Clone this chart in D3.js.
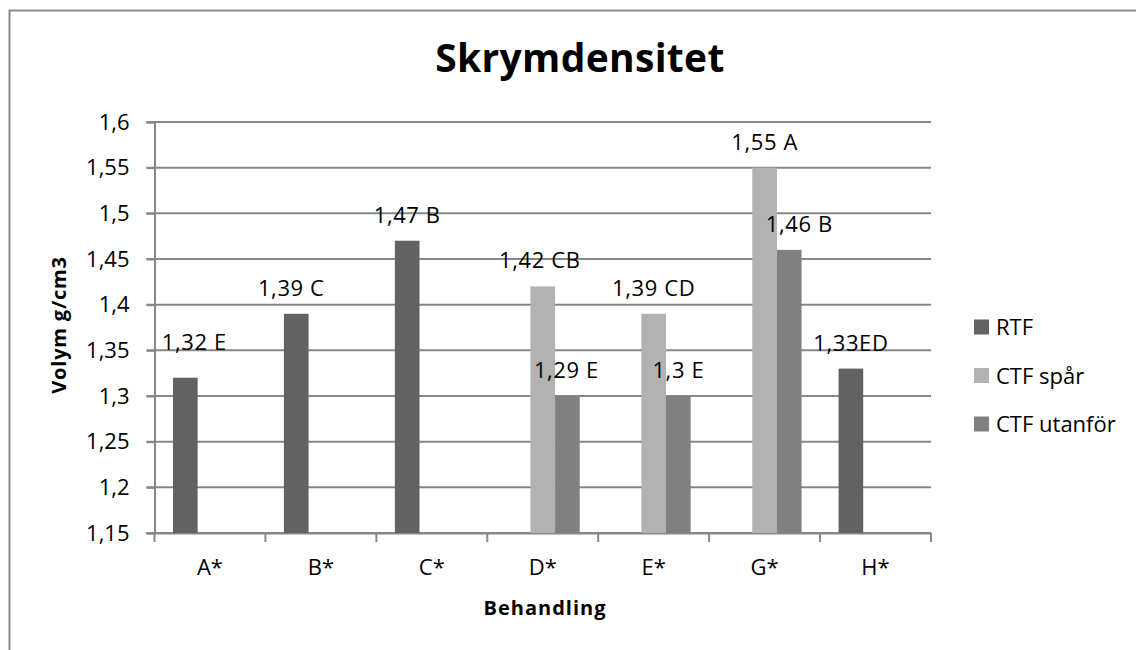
<!DOCTYPE html>
<html>
<head>
<meta charset="utf-8">
<script src="https://cdn.jsdelivr.net/npm/d3@7"></script>
<style>
  body { margin: 0; background: #fff; }
  text { font-family: "Open Sans", Carlito, Calibri, sans-serif; fill: #000; }
</style>
</head>
<body>
<svg></svg>
<script>
// data
let categories = ['A*', 'B*', 'C*', 'D*', 'E*', 'G*', 'H*']
let seriesNames = ['RTF', 'CTF spår', 'CTF utanför']
let rtf = [1.32, 1.39, 1.47, null, null, null, 1.33]
let ctfSpar = [null, null, null, 1.42, 1.39, 1.55, null]
let ctfUtanfor = [null, null, null, 1.30, 1.30, 1.46, null]
let rtfLabels = ['1,32 E', '1,39 C', '1,47 B', null, null, null, '1,33ED']
let sparLabels = [null, null, null, '1,42 CB', '1,39 CD', '1,55 A', null]
let utanforLabels = [null, null, null, '1,29 E', '1,3 E', '1,46 B', null]
let yTicks = [1.15, 1.2, 1.25, 1.3, 1.35, 1.4, 1.45, 1.5, 1.55, 1.6]

let colors = ['#626262', '#b2b2b2', '#808080']
let gridColor = '#878787'

// hand-moved labels in the original (dx, dy)
let labelNudge = {
    'RTF': [[9, -10], [-5, 0], [0, 0], null, null, null, [0, 0]],
    'CTF spår': [null, null, null, [-3, 0], [0, 0], [0, 0], null],
    'CTF utanför': [null, null, null, [-1, 0], [0, 0], [10, 0], null]
}

let width = 1136
let height = 650
let plotLeft = 154.5
let plotRight = 931
let plotTop = 122
let plotBottom = 533

let svg = d3.select('svg')
            .attr('width', width)
            .attr('height', height)

let fmt = d3.formatLocale({decimal: ',', thousands: ' ', grouping: [3], currency: ['', '']}).format('~g')

let table = categories.map((c, i) => ({
    cat: c,
    values: [
        {s: seriesNames[0], v: rtf[i], label: rtfLabels[i], nudge: labelNudge['RTF'][i]},
        {s: seriesNames[1], v: ctfSpar[i], label: sparLabels[i], nudge: labelNudge['CTF spår'][i]},
        {s: seriesNames[2], v: ctfUtanfor[i], label: utanforLabels[i], nudge: labelNudge['CTF utanför'][i]}
    ]
}))

let xScale = d3.scaleBand()
               .domain(categories)
               .range([plotLeft, plotRight])
               .padding(0)

let xInner = d3.scaleBand()
               .domain(seriesNames)
               .range([0, xScale.bandwidth()])
               .paddingInner(0)
               .paddingOuter(0.75)

let yScale = d3.scaleLinear()
               .domain([1.15, 1.6])
               .range([plotBottom, plotTop])

let colorScale = d3.scaleOrdinal().domain(seriesNames).range(colors)

// outer frame (runs off the right and bottom)
svg.append('path')
   .attr('d', 'M9.5,' + (height + 5) + ' V10.5 H' + (width + 5))
   .attr('fill', 'none')
   .attr('stroke', '#898989')
   .attr('stroke-width', 2)

// title
svg.append('text')
   .text('Skrymdensitet')
   .attr('x', 580)
   .attr('y', 72)
   .attr('text-anchor', 'middle')
   .style('font-weight', 'bold')
   .style('font-size', '39px')
   .style('letter-spacing', '0.3px')

// gridlines
svg.append('g')
   .selectAll('line')
   .data(yTicks)
   .enter()
   .append('line')
   .attr('x1', plotLeft - 8)
   .attr('x2', plotRight)
   .attr('y1', d => yScale(d))
   .attr('y2', d => yScale(d))
   .attr('stroke', gridColor)
   .attr('stroke-width', 2)

// y axis
let yAxis = d3.axisLeft(yScale)
              .tickValues(yTicks)
              .tickFormat(fmt)
              .tickSize(8)
              .tickPadding(17)

let yG = svg.append('g')
            .attr('transform', 'translate(' + plotLeft + ',0)')
            .call(yAxis)
yG.select('.domain').attr('stroke', gridColor).attr('stroke-width', 2)
yG.selectAll('.tick line').attr('stroke', gridColor).attr('stroke-width', 2)
yG.selectAll('.tick text')
  .style('font-size', '22px')
  .style('font-family', '"Open Sans", Carlito, Calibri, sans-serif')
  .attr('fill', '#000')

// x axis
let xAxis = d3.axisBottom(xScale)
              .tickSize(0)
              .tickPadding(26)

let xG = svg.append('g')
            .attr('transform', 'translate(0,' + plotBottom + ')')
            .call(xAxis)
xG.select('.domain').attr('stroke', gridColor).attr('stroke-width', 2)
xG.selectAll('.tick text')
  .style('font-size', '22px')
  .style('font-family', '"Open Sans", Carlito, Calibri, sans-serif')
  .attr('fill', '#000')

// category boundary ticks
xG.append('g')
  .selectAll('line')
  .data(categories.concat(['end']))
  .enter()
  .append('line')
  .attr('x1', (d, i) => plotLeft + i * xScale.bandwidth())
  .attr('x2', (d, i) => plotLeft + i * xScale.bandwidth())
  .attr('y1', 0)
  .attr('y2', 9)
  .attr('stroke', gridColor)
  .attr('stroke-width', 2)

// bars
let groups = svg.append('g')
                .selectAll('g')
                .data(table)
                .enter()
                .append('g')
                .attr('transform', d => 'translate(' + xScale(d.cat) + ',0)')

groups.selectAll('rect')
      .data(d => d.values.filter(item => item.v != null))
      .enter()
      .append('rect')
      .attr('x', item => xInner(item.s))
      .attr('y', item => yScale(item.v))
      .attr('width', xInner.bandwidth())
      .attr('height', item => plotBottom - yScale(item.v))
      .attr('fill', item => colorScale(item.s))

// data labels
groups.selectAll('text.lbl')
      .data(d => d.values.filter(item => item.label != null))
      .enter()
      .append('text')
      .attr('class', 'lbl')
      .text(item => item.label)
      .attr('x', item => xInner(item.s) + xInner.bandwidth() / 2 + item.nudge[0])
      .attr('y', item => yScale(item.v) - 18 + item.nudge[1])
      .attr('text-anchor', 'middle')
      .style('font-size', '22px')
      .style('letter-spacing', '0.6px')

// axis titles
svg.append('text')
   .text('Volym g/cm3')
   .attr('transform', 'translate(66,325) rotate(-90)')
   .attr('text-anchor', 'middle')
   .style('font-weight', 'bold')
   .style('font-size', '20px')
   .style('letter-spacing', '0.8px')

svg.append('text')
   .text('Behandling')
   .attr('x', 545)
   .attr('y', 615)
   .attr('text-anchor', 'middle')
   .style('font-weight', 'bold')
   .style('font-size', '20px')
   .style('letter-spacing', '1px')

// legend
let legend = svg.append('g')
                .selectAll('g')
                .data(seriesNames)
                .enter()
                .append('g')
                .attr('transform', (d, i) => 'translate(974,' + (327 + i * 48.5) + ')')

legend.append('rect')
      .attr('x', 0)
      .attr('y', -7.5)
      .attr('width', 15)
      .attr('height', 15)
      .attr('fill', d => colorScale(d))

legend.append('text')
      .text(d => d)
      .attr('x', 22)
      .attr('y', 8)
      .style('font-size', '22px')
</script>
</body>
</html>
